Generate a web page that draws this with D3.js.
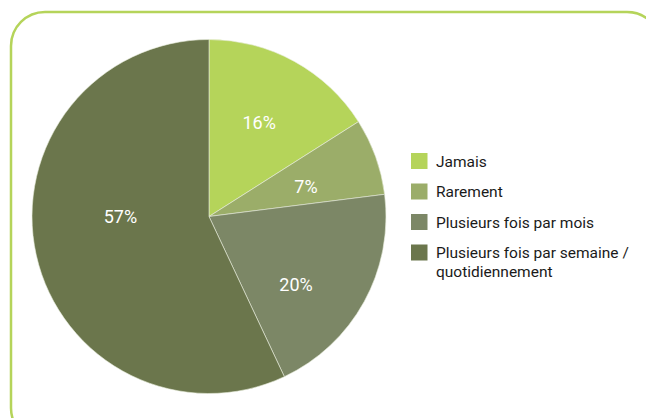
<!DOCTYPE html>
<html>
<head>
<meta charset="utf-8">
<script src="https://cdn.jsdelivr.net/npm/d3@7"></script>
<style>
  body { margin: 0; background: #fff; }
  svg { display: block; font-family: Roboto, "DejaVu Sans", sans-serif; }
</style>
</head>
<body>
<svg id="chart" width="646" height="418"></svg>
<script>
// data
const categories = ["Jamais", "Rarement", "Plusieurs fois par mois", "Plusieurs fois par semaine / quotidiennement"];
const values = [16, 7, 20, 57];
const legendLines = [["Jamais"], ["Rarement"], ["Plusieurs fois par mois"], ["Plusieurs fois par semaine /", "quotidiennement"]];
const colors = ["#b5d45a", "#9bad69", "#7c8766", "#6b764c"];
// small nudges so labels sit where the original placed them
const labelNudge = [[-1, -1], [-3, 6], [-6, 17], [15, -23]];

const svg = d3.select("#chart");

// rounded frame
svg.append("rect")
    .attr("x", 11)
    .attr("y", 12)
    .attr("width", 650)
    .attr("height", 430)
    .attr("rx", 34)
    .attr("fill", "none")
    .attr("stroke", "#b5d45a")
    .attr("stroke-width", 2.5);

const cx = 209, cy = 216.5, r = 177;

const pie = d3.pie().sort(null).value(d => d);
const arc = d3.arc().innerRadius(0).outerRadius(r);
const labelArc = d3.arc().innerRadius(r * 0.6).outerRadius(r * 0.6);

const g = svg.append("g")
    .attr("transform", "translate(" + cx + "," + cy + ")");

const slices = pie(values);

g.selectAll("path")
    .data(slices)
    .enter()
    .append("path")
    .attr("d", arc)
    .attr("fill", (d, i) => colors[i])
    .attr("stroke", "#e8ecdc")
    .attr("stroke-width", 0.6);

g.selectAll(".lbl")
    .data(slices)
    .enter()
    .append("text")
    .attr("class", "lbl")
    .attr("transform", (d, i) => {
      const c = labelArc.centroid(d);
      return "translate(" + (c[0] + labelNudge[i][0]) + "," + (c[1] + labelNudge[i][1]) + ")";
    })
    .attr("text-anchor", "middle")
    .attr("dy", "0.35em")
    .attr("fill", "#fff")
    .style("font-size", "18px")
    .text(d => d.value + "%");

// legend
const legend = svg.append("g")
    .attr("transform", "translate(411,153)");

const rows = legend.selectAll("g")
    .data(categories)
    .enter()
    .append("g")
    .attr("transform", (d, i) => "translate(0," + (i * 30.5) + ")");

rows.append("rect")
    .attr("width", 16.5)
    .attr("height", 16)
    .attr("fill", (d, i) => colors[i]);

rows.append("text")
    .attr("x", 25)
    .attr("y", 13.5)
    .attr("fill", "#1a1a1a")
    .style("font-size", "15.5px")
    .each(function(d, i) {
      d3.select(this).selectAll("tspan")
        .data(legendLines[i])
        .enter()
        .append("tspan")
        .attr("x", 25)
        .attr("dy", (t, j) => j === 0 ? 0 : 19)
        .text(t => t);
    });
</script>
</body>
</html>
